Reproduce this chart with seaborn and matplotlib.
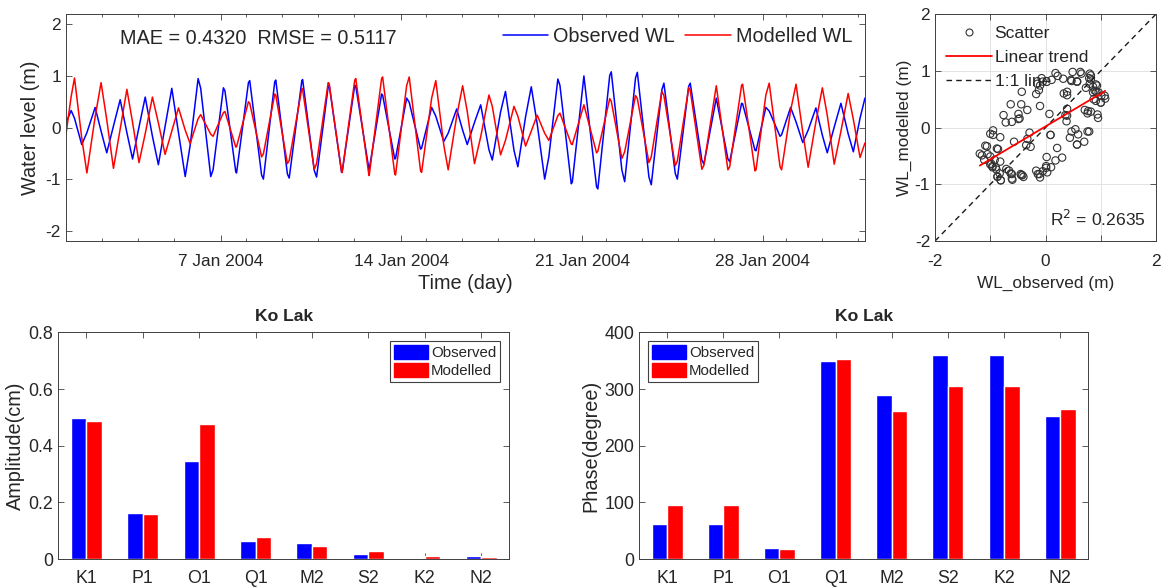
import numpy as np
import pandas as pd
import matplotlib
matplotlib.use("Agg")
import matplotlib.pyplot as plt
import matplotlib.dates as mdates
import matplotlib.ticker as mticker
from matplotlib.lines import Line2D
from matplotlib.patches import Patch
import seaborn as sns

# ---------------- data ----------------
# Observed WL: turning points (days since 1 Jan 2004 00:00, metres)
obs_ext_day = [0.00, 0.20, 0.61, 1.13, 1.58, 2.10, 2.58, 3.07, 3.58, 4.10,
               4.62, 5.12, 5.61, 6.10, 6.61, 7.12, 7.65, 8.13, 8.65, 9.17,
               9.71, 10.20, 10.68, 11.19, 11.75, 12.23, 12.74, 13.20, 13.74, 14.17,
               14.64, 15.14, 15.55, 16.07, 16.52, 17.03, 17.51, 18.03, 18.55, 19.06,
               19.58, 20.07, 20.61, 21.13, 21.65, 22.14, 22.68, 23.17, 23.69, 24.19,
               24.72, 25.20, 25.72, 26.18, 26.74, 27.12, 27.67, 28.08, 28.55, 29.06,
               29.50, 30.03, 30.51, 30.96]
obs_ext_val = [0.09, 0.33, -0.33, 0.39, -0.49, 0.54, -0.61, 0.59, -0.72, 0.76,
               -0.95, 0.95, -0.95, 0.77, -0.88, 0.91, -1.00, 0.92, -0.98, 0.93,
               -0.96, 0.82, -0.87, 0.82, -0.81, 0.65, -0.61, 0.57, -0.42, 0.39,
               -0.27, 0.36, -0.33, 0.44, -0.63, 0.70, -0.76, 0.79, -1.00, 0.94,
               -1.09, 1.00, -1.19, 1.08, -1.05, 1.07, -1.11, 0.86, -1.00, 0.86,
               -0.71, 0.57, -0.66, 0.47, -0.45, 0.39, -0.17, 0.39, -0.29, 0.38,
               -0.49, 0.47, -0.47, 0.57]
# Modelled WL read at the observed turning-point times
mod_at_obs_ext = [-0.13, 0.60, -0.20, 0.21, 0.15, -0.03, 0.10, -0.12, 0.09, -0.07,
                  -0.05, 0.17, -0.13, 0.29, -0.37, 0.47, -0.51, 0.63, -0.64, 0.74,
                  -0.70, 0.85, -0.86, 0.92, -0.93, 0.95, -0.90, 0.81, -0.84, 0.57,
                  -0.34, 0.22, 0.31, -0.18, 0.41, -0.25, 0.22, -0.07, -0.11, 0.23,
                  -0.32, 0.44, -0.46, 0.51, -0.47, 0.56, -0.57, 0.62, -0.65, 0.72,
                  -0.73, 0.81, -0.76, 0.82, -0.82, 0.63, -0.76, 0.33, -0.09, 0.11,
                  0.24, -0.07, 0.16, -0.30]

# Modelled WL: turning points
mod_ext_day = [0.00, 0.33, 0.81, 1.36, 1.84, 2.36, 2.83, 3.35, 3.84, 4.36,
               4.81, 5.22, 5.70, 6.16, 6.58, 7.07, 7.58, 8.09, 8.58, 9.14,
               9.62, 10.16, 10.70, 11.23, 11.74, 12.27, 12.77, 13.30, 13.78, 14.33,
               14.81, 15.37, 15.83, 16.39, 16.84, 17.36, 17.81, 18.26, 18.71, 19.14,
               19.62, 20.07, 20.56, 21.07, 21.54, 22.07, 22.59, 23.09, 23.61, 24.13,
               24.64, 25.20, 25.65, 26.22, 26.70, 27.25, 27.73, 28.29, 28.76, 29.31,
               29.77, 30.31, 30.77, 30.96]
mod_ext_val = [-0.13, 0.96, -0.88, 0.87, -0.79, 0.74, -0.68, 0.59, -0.52, 0.38,
               -0.31, 0.25, -0.17, 0.31, -0.38, 0.50, -0.57, 0.65, -0.70, 0.76,
               -0.81, 0.87, -0.87, 0.95, -0.93, 0.98, -0.92, 0.98, -0.87, 0.91,
               -0.82, 0.81, -0.70, 0.63, -0.53, 0.41, -0.36, 0.24, -0.25, 0.28,
               -0.33, 0.44, -0.49, 0.56, -0.60, 0.62, -0.68, 0.70, -0.74, 0.77,
               -0.81, 0.81, -0.82, 0.84, -0.84, 0.86, -0.82, 0.84, -0.77, 0.77,
               -0.71, 0.66, -0.58, -0.30]
# Observed WL read at the modelled turning-point times
obs_at_mod_ext = [0.09, 0.18, -0.10, -0.07, 0.03, -0.10, 0.01, -0.17, 0.02, -0.10,
                  -0.35, 0.76, -0.82, 0.71, -0.86, 0.87, -0.92, 0.89, -0.90, 0.91,
                  -0.83, 0.79, -0.87, 0.80, -0.81, 0.63, -0.60, 0.49, -0.40, 0.22,
                  -0.11, -0.05, 0.10, -0.43, 0.30, -0.44, 0.21, 0.07, -0.57, 0.82,
                  -1.06, 1.00, -1.15, 1.01, -0.82, 0.96, -0.96, 0.73, -0.89, 0.80,
                  -0.63, 0.57, -0.61, 0.46, -0.44, 0.32, -0.14, 0.11, -0.05, -0.15,
                  0.01, -0.12, 0.18, 0.57]

mae_text = "MAE = 0.4320  RMSE = 0.5117"
r2_text = "R$^2$ = 0.2635"

constituents = ["K1", "P1", "O1", "Q1", "M2", "S2", "K2", "N2"]
amp_observed = [0.496, 0.161, 0.346, 0.064, 0.055, 0.016, 0.005, 0.009]
amp_modelled = [0.488, 0.159, 0.478, 0.076, 0.045, 0.029, 0.009, 0.008]
phase_observed = [62, 62, 19, 349, 289, 360, 360, 252]
phase_modelled = [96, 96, 18, 353, 262, 305, 305, 264]

# ---------------- style ----------------
sns.set_theme(style="white")
plt.rcParams["font.family"] = ["Liberation Sans", "DejaVu Sans"]
plt.rcParams["axes.unicode_minus"] = False
TXT = "#262626"
plt.rcParams["text.color"] = TXT
plt.rcParams["axes.labelcolor"] = TXT
plt.rcParams["xtick.color"] = TXT
plt.rcParams["ytick.color"] = TXT
BLUE, RED = "#0000ff", "#ff0000"

fig = plt.figure(figsize=(11.72, 5.88), dpi=100)
ax1 = fig.add_axes([0.0563, 0.5901, 0.6817, 0.386])
ax2 = fig.add_axes([0.7978, 0.5901, 0.1886, 0.386])
ax3 = fig.add_axes([0.0497, 0.0493, 0.3848, 0.3855])
ax4 = fig.add_axes([0.5452, 0.0493, 0.3834, 0.3855])


def box(ax):
    for s in ax.spines.values():
        s.set_visible(True)
        s.set_color("#404040")
        s.set_linewidth(0.7)
    ax.tick_params(which="both", direction="in", top=True, right=True,
                   bottom=True, left=True, color="#404040", width=0.6)
    ax.tick_params(which="major", length=4)
    ax.tick_params(which="minor", length=2.5)


# ---------------- time series ----------------
start = pd.Timestamp("2004-01-01")
obs_df = pd.DataFrame({"day": obs_ext_day + mod_ext_day,
                       "wl": obs_ext_val + obs_at_mod_ext})
obs_df = obs_df.drop_duplicates("day").sort_values("day")
mod_df = pd.DataFrame({"day": mod_ext_day + obs_ext_day,
                       "wl": mod_ext_val + mod_at_obs_ext})
mod_df = mod_df.drop_duplicates("day").sort_values("day")
obs_df["time"] = start + pd.to_timedelta(obs_df["day"], unit="D")
mod_df["time"] = start + pd.to_timedelta(mod_df["day"], unit="D")

sns.lineplot(data=obs_df, x="time", y="wl", estimator=None, color=BLUE,
             lw=1.1, ax=ax1, label="Observed WL")
sns.lineplot(data=mod_df, x="time", y="wl", estimator=None, color=RED,
             lw=1.1, ax=ax1, label="Modelled WL")
ax1.set_xlim(start, start + pd.Timedelta(days=30.96))
ax1.set_ylim(-2.2, 2.2)
ax1.set_yticks([-2, -1, 0, 1, 2])
majors = [pd.Timestamp(f"2004-01-{d:02d}") for d in (7, 14, 21, 28)]
ax1.xaxis.set_major_locator(mticker.FixedLocator(mdates.date2num(majors)))
ax1.xaxis.set_major_formatter(mdates.DateFormatter("%-d %b %Y"))
minor_days = [1.38 + 1.395 * k for k in range(22)]
minor_days = [d for d in minor_days if min(abs(d - m) for m in (6, 13, 20, 27)) > 0.6]
ax1.xaxis.set_minor_locator(mticker.FixedLocator(
    mdates.date2num([start + pd.Timedelta(days=d) for d in minor_days])))
ax1.tick_params(axis="both", labelsize=12.4)
ax1.tick_params(axis="x", pad=9)
ax1.set_xlabel("Time (day)", fontsize=14.3, labelpad=4)
ax1.set_ylabel("Water level (m)", fontsize=14.3, labelpad=4)
box(ax1)
ax1.legend(loc="upper right", ncol=2, frameon=False, fontsize=14.3,
           handlelength=2.3, handletextpad=0.25, columnspacing=0.5,
           borderaxespad=0.25)
ax1.text(0.068, 0.935, mae_text, transform=ax1.transAxes, fontsize=14.3,
         va="top", ha="left")

# ---------------- scatter ----------------
sc_obs = obs_ext_val + obs_at_mod_ext
sc_mod = mod_at_obs_ext + mod_ext_val
sns.scatterplot(x=sc_obs, y=sc_mod, ax=ax2, s=28, marker="o", linewidth=0.8)
coll = ax2.collections[-1]
coll.set_facecolor("none")
coll.set_edgecolor("#333333")
ax2.axline((0, 0), slope=1, color="k", ls=(0, (4, 3)), lw=1.0)
sns.regplot(x=sc_obs, y=sc_mod, scatter=False, ci=None, truncate=True,
            color=RED, line_kws={"lw": 1.3}, ax=ax2)
ax2.set_xlim(-2, 2)
ax2.set_ylim(-2, 2)
ax2.set_xticks([-2, -1, 0, 1, 2])
ax2.set_xticklabels(["-2", "", "0", "", "2"])
ax2.set_yticks([-2, -1, 0, 1, 2])
ax2.grid(True, color="#e3e3e3", lw=0.7)
ax2.set_axisbelow(True)
ax2.tick_params(axis="both", labelsize=12.4)
ax2.tick_params(axis="x", pad=9)
ax2.set_xlabel("WL_observed (m)", fontsize=12.4, labelpad=5)
ax2.set_ylabel("WL_modelled (m)", fontsize=12.4, labelpad=2)
box(ax2)
handles = [Line2D([], [], ls="none", marker="o", mfc="none", mec="#333333", ms=5, mew=0.8),
           Line2D([], [], color=RED, lw=1.3),
           Line2D([], [], color="k", ls=(0, (4, 3)), lw=1.0)]
ax2.legend(handles, ["Scatter", "Linear trend", "1:1 line"], loc="upper left",
           frameon=False, fontsize=12.6, handlelength=2.6, handletextpad=0.15,
           labelspacing=0.5, borderaxespad=0.25)
ax2.text(0.955, 0.055, r2_text, transform=ax2.transAxes, ha="right",
         va="bottom", fontsize=12.6)

# ---------------- bar charts ----------------
amp_df = pd.DataFrame({"const": constituents * 2,
                       "src": ["Observed"] * 8 + ["Modelled"] * 8,
                       "val": amp_observed + amp_modelled})
ph_df = pd.DataFrame({"const": constituents * 2,
                      "src": ["Observed"] * 8 + ["Modelled"] * 8,
                      "val": phase_observed + phase_modelled})
pal = {"Observed": BLUE, "Modelled": RED}
leg_handles = [Patch(facecolor=BLUE, edgecolor=BLUE), Patch(facecolor=RED, edgecolor=RED)]

for ax, df, ylim, yt, ylab, loc in (
        (ax3, amp_df, (0, 0.8), [0, 0.2, 0.4, 0.6, 0.8], "Amplitude(cm)", "upper right"),
        (ax4, ph_df, (0, 400), [0, 100, 200, 300, 400], "Phase(degree)", "upper left")):
    sns.barplot(data=df, x="const", y="val", hue="src", palette=pal,
                width=0.55, saturation=1, ax=ax, legend=False, errorbar=None)
    ax.set_xlim(-0.5, 7.5)
    ax.set_ylim(*ylim)
    ax.set_yticks(yt)
    ax.set_yticklabels(["0"] + [f"{v:g}" for v in yt[1:]])
    ax.set_xlabel("")
    ax.set_ylabel(ylab, fontsize=14.3, labelpad=3)
    ax.set_title("Ko Lak", fontsize=12.6, fontweight="bold", pad=8)
    ax.tick_params(axis="both", labelsize=12.8)
    ax.tick_params(axis="x", pad=8)
    box(ax)
    leg = ax.legend(leg_handles, ["Observed", "Modelled"], loc=loc,
                    fontsize=10.8, handlelength=2.3, handleheight=1.05,
                    handletextpad=0.2, labelspacing=0.2, borderpad=0.25,
                    borderaxespad=0.6, fancybox=False, framealpha=1)
    leg.get_frame().set_edgecolor("#404040")
    leg.get_frame().set_linewidth(0.8)

fig.savefig("out.png", dpi=100)
